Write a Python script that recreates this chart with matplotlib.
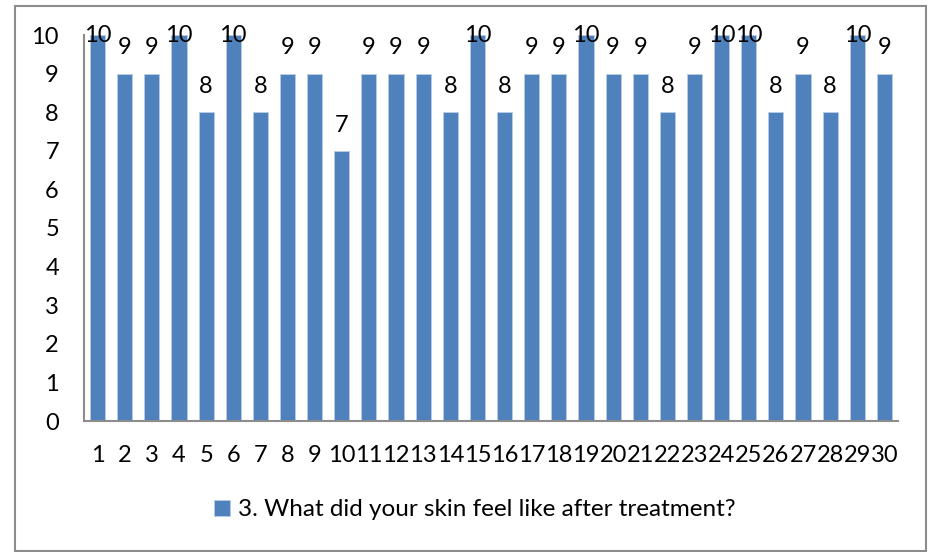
import matplotlib
matplotlib.use("Agg")
import matplotlib.pyplot as plt
from matplotlib.patches import Rectangle

categories = [str(i) for i in range(1, 31)]
values = [10, 9, 9, 10, 8, 10, 8, 9, 9, 7, 9, 9, 9, 8, 10, 8, 9, 9, 10, 9,
          9, 8, 9, 10, 10, 8, 9, 8, 10, 9]
series_name = "3. What did your skin feel like after treatment?"
yticks = list(range(0, 11))

plt.rcParams['font.family'] = ['Lato', 'DejaVu Sans']

fig = plt.figure(figsize=(9.32, 5.52), dpi=100)
fig.patches.append(Rectangle((15/932, 1/552), 911/932, 545/552, transform=fig.transFigure,
                             fill=False, edgecolor='#8c8c8c', linewidth=1.5))
ax = fig.add_axes([84/932, 1-421/552, 814/932, 386/552])

x = list(range(len(categories)))
bars = ax.bar(x, values, width=0.56, color='#4F81BD', edgecolor='#b9cde5', linewidth=0.6,
              label=series_name)
ax.set_xlim(-0.5, len(categories) - 0.5)
ax.set_ylim(0, 10)
ax.set_yticks(yticks)
ax.set_xticks(x)
ax.set_xticklabels(categories)
ax.tick_params(axis='both', length=0, labelsize=17)
ax.tick_params(axis='x', pad=17)
ax.tick_params(axis='y', pad=18)
for s in ['top', 'right']:
    ax.spines[s].set_visible(False)
for s in ['left', 'bottom']:
    ax.spines[s].set_color('#8c8c8c')
    ax.spines[s].set_linewidth(1.5)

for xi, v in zip(x, values):
    off = 11 if v < 10 else -8
    ax.annotate(str(v), (xi, v), xytext=(0, off), textcoords='offset points',
                ha='center', va='bottom', fontsize=17, clip_on=False)

leg = fig.legend(handles=[bars], labels=[series_name], loc='center',
                 bbox_to_anchor=(475/932, 1-510/552), frameon=False, fontsize=17.5,
                 handlelength=0.65, handleheight=0.65, handletextpad=0.35)
fig.savefig('out.png', dpi=100)
